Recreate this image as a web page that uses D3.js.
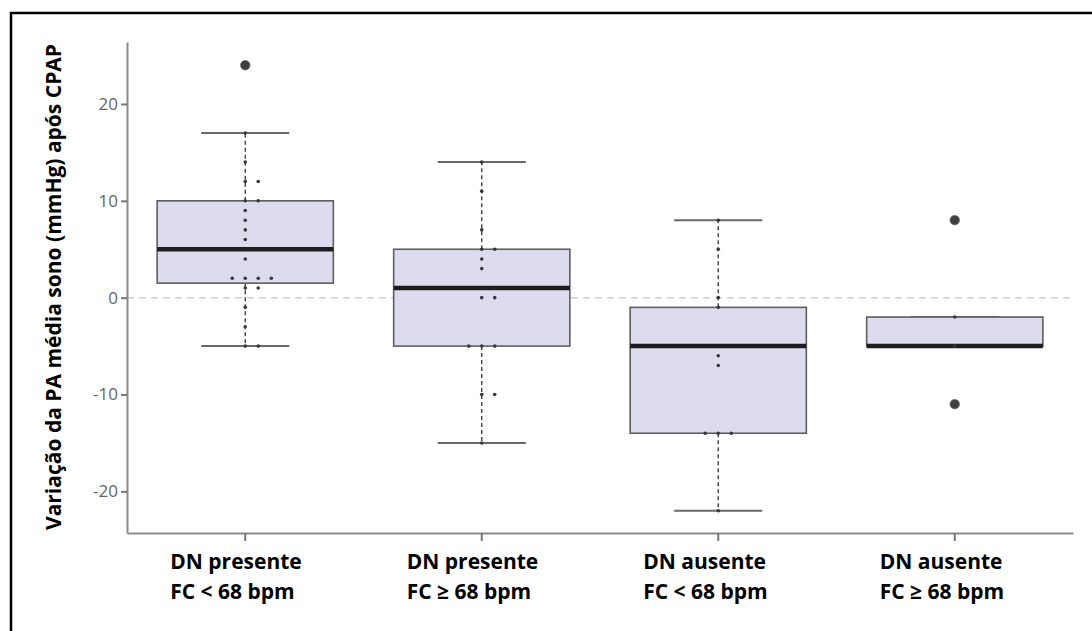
<!DOCTYPE html>
<html>
<head>
<meta charset="utf-8">
<script src="https://cdn.jsdelivr.net/npm/d3@7"></script>
<style>
  body { margin: 0; background: #fff; }
  svg { display: block; }
</style>
</head>
<body>
<div id="chart"></div>
<script>
// boxplot: variação da PA média no sono após CPAP, por grupo

const labelLine1 = ["DN presente", "DN presente", "DN ausente", "DN ausente"];
const labelLine2 = ["FC < 68 bpm", "FC \u2265 68 bpm", "FC < 68 bpm", "FC \u2265 68 bpm"];

const whiskerLow = [-5, -15, -22, -5];
const q1 = [1.5, -5, -14, -5];
const median = [5, 1, -5, -5];
const q3 = [10, 5, -1, -2];
const whiskerHigh = [17, 14, 8, -2];
const outliers = [[24], [], [], [8, -11]];

// individual observations: [value, jitter column]
const points = [
  [[17, 0], [14, 0], [12, 0], [12, 1], [10, 0], [10, 1], [9, 0], [8, 0], [7, 0], [6, 0], [4, 0],
   [2, -1], [2, 0], [2, 1], [2, 2], [1, 0], [1, 1], [-1, 0], [-3, 0], [-5, 0], [-5, 1]],
  [[14, 0], [11, 0], [7, 0], [5, 0], [5, 1], [4, 0], [3, 0], [0, 0], [0, 1],
   [-5, -1], [-5, 0], [-5, 1], [-10, 0], [-10, 1], [-15, 0]],
  [[8, 0], [5, 0], [0, 0], [-1, 0], [-6, 0], [-7, 0], [-14, -1], [-14, 0], [-14, 1], [-22, 0]],
  [[-2, 0], [-5, 0]]
];

const yTicks = [-20, -10, 0, 10, 20];
const yLabel = "Variação da PA média sono (mmHg) após CPAP";

main();

function main() {
  const width = 1092;
  const height = 631;
  const left = 127, right = 1073, top = 42, bottom = 533;

  const svg = d3.select("#chart").append("svg")
      .attr("width", width)
      .attr("height", height)
      .attr("viewBox", [0, 0, width, height]);

  // frame
  svg.append("rect")
      .attr("x", 11).attr("y", 13)
      .attr("width", width).attr("height", height)
      .attr("fill", "none")
      .attr("stroke", "#000")
      .attr("stroke-width", 2.5);

  const idx = d3.range(labelLine1.length);
  const x = d3.scaleBand().domain(idx).range([left, right]).padding(0);
  const y = d3.scaleLinear().domain([-24.3, 26.4]).range([bottom, top]);

  const boxW = x.bandwidth() * 0.745;
  const capW = boxW / 2;
  const jitter = 13;
  const cx = i => x(i) + x.bandwidth() / 2;

  // zero reference line
  svg.append("line")
      .attr("x1", left).attr("x2", right)
      .attr("y1", y(0)).attr("y2", y(0))
      .attr("stroke", "#cfcfcf")
      .attr("stroke-width", 1.5)
      .attr("stroke-dasharray", "7,5");

  // axes
  const yAxis = d3.axisLeft(y).tickValues(yTicks).tickSize(6).tickPadding(3)
      .tickSizeOuter(0).tickFormat(d => String(d));
  svg.append("g")
      .attr("transform", `translate(${left},0)`)
      .call(yAxis)
      .call(g => g.select(".domain").attr("stroke", "#8a8a8a").attr("stroke-width", 2))
      .call(g => g.selectAll(".tick line").attr("stroke", "#777").attr("stroke-width", 2))
      .call(g => g.selectAll(".tick text")
          .attr("fill", "#5f6670")
          .attr("font-family", "Open Sans, sans-serif")
          .attr("font-size", 17));

  const xAxis = d3.axisBottom(x).tickSize(8).tickSizeOuter(0).tickFormat("");
  svg.append("g")
      .attr("transform", `translate(0,${bottom})`)
      .call(xAxis)
      .call(g => g.select(".domain").attr("stroke", "#8a8a8a").attr("stroke-width", 2))
      .call(g => g.selectAll(".tick line").attr("stroke", "#777").attr("stroke-width", 2));

  const grp = svg.append("g").selectAll("g")
    .data(idx)
    .join("g");

  // dashed whiskers
  grp.append("line")
      .attr("x1", cx).attr("x2", cx)
      .attr("y1", i => y(q3[i])).attr("y2", i => y(whiskerHigh[i]))
      .attr("stroke", "#333").attr("stroke-width", 1.3).attr("stroke-dasharray", "4,3");
  grp.append("line")
      .attr("x1", cx).attr("x2", cx)
      .attr("y1", i => y(q1[i])).attr("y2", i => y(whiskerLow[i]))
      .attr("stroke", "#333").attr("stroke-width", 1.3).attr("stroke-dasharray", "4,3");

  // caps
  for (const arr of [whiskerHigh, whiskerLow]) {
    grp.append("line")
        .attr("x1", i => cx(i) - capW / 2).attr("x2", i => cx(i) + capW / 2)
        .attr("y1", i => y(arr[i])).attr("y2", i => y(arr[i]))
        .attr("stroke", "#6a6a6a").attr("stroke-width", 2);
  }

  // boxes
  grp.append("rect")
      .attr("x", i => cx(i) - boxW / 2)
      .attr("width", boxW)
      .attr("y", i => y(q3[i]))
      .attr("height", i => y(q1[i]) - y(q3[i]))
      .attr("fill", "#dcdcee")
      .attr("stroke", "#5e5e5e")
      .attr("stroke-width", 1.6);

  // medians
  grp.append("line")
      .attr("x1", i => cx(i) - boxW / 2).attr("x2", i => cx(i) + boxW / 2)
      .attr("y1", i => y(median[i])).attr("y2", i => y(median[i]))
      .attr("stroke", "#1e1e1e").attr("stroke-width", 4.5);

  // observations
  grp.selectAll("circle.obs")
    .data(i => points[i].map(p => ({i, v: p[0], k: p[1]})))
    .join("circle")
      .attr("class", "obs")
      .attr("cx", d => cx(d.i) + d.k * jitter)
      .attr("cy", d => y(d.v))
      .attr("r", 1.8)
      .attr("fill", "#383838");

  // outliers
  grp.selectAll("circle.out")
    .data(i => outliers[i].map(v => ({i, v})))
    .join("circle")
      .attr("class", "out")
      .attr("cx", d => cx(d.i))
      .attr("cy", d => y(d.v))
      .attr("r", 4.8)
      .attr("fill", "#3e3e3e")
      .attr("stroke", "#777")
      .attr("stroke-width", 0.8);

  // category labels
  const lab = svg.append("g")
      .attr("font-family", "Open Sans, sans-serif")
      .attr("font-weight", "bold")
      .attr("font-size", 21)
      .attr("fill", "#000");
  lab.selectAll("text.l1")
    .data(idx)
    .join("text")
      .attr("x", i => cx(i) - 75)
      .attr("y", 569)
      .text(i => labelLine1[i]);
  lab.selectAll("text.l2")
    .data(idx)
    .join("text")
      .attr("x", i => cx(i) - 75)
      .attr("y", 599)
      .text(i => labelLine2[i]);

  // y label
  svg.append("text")
      .attr("transform", `translate(61,287) rotate(-90)`)
      .attr("text-anchor", "middle")
      .attr("font-family", "Open Sans, sans-serif")
      .attr("font-weight", "bold")
      .attr("font-size", 21)
      .attr("fill", "#000")
      .text(yLabel);
}
</script>
</body>
</html>
